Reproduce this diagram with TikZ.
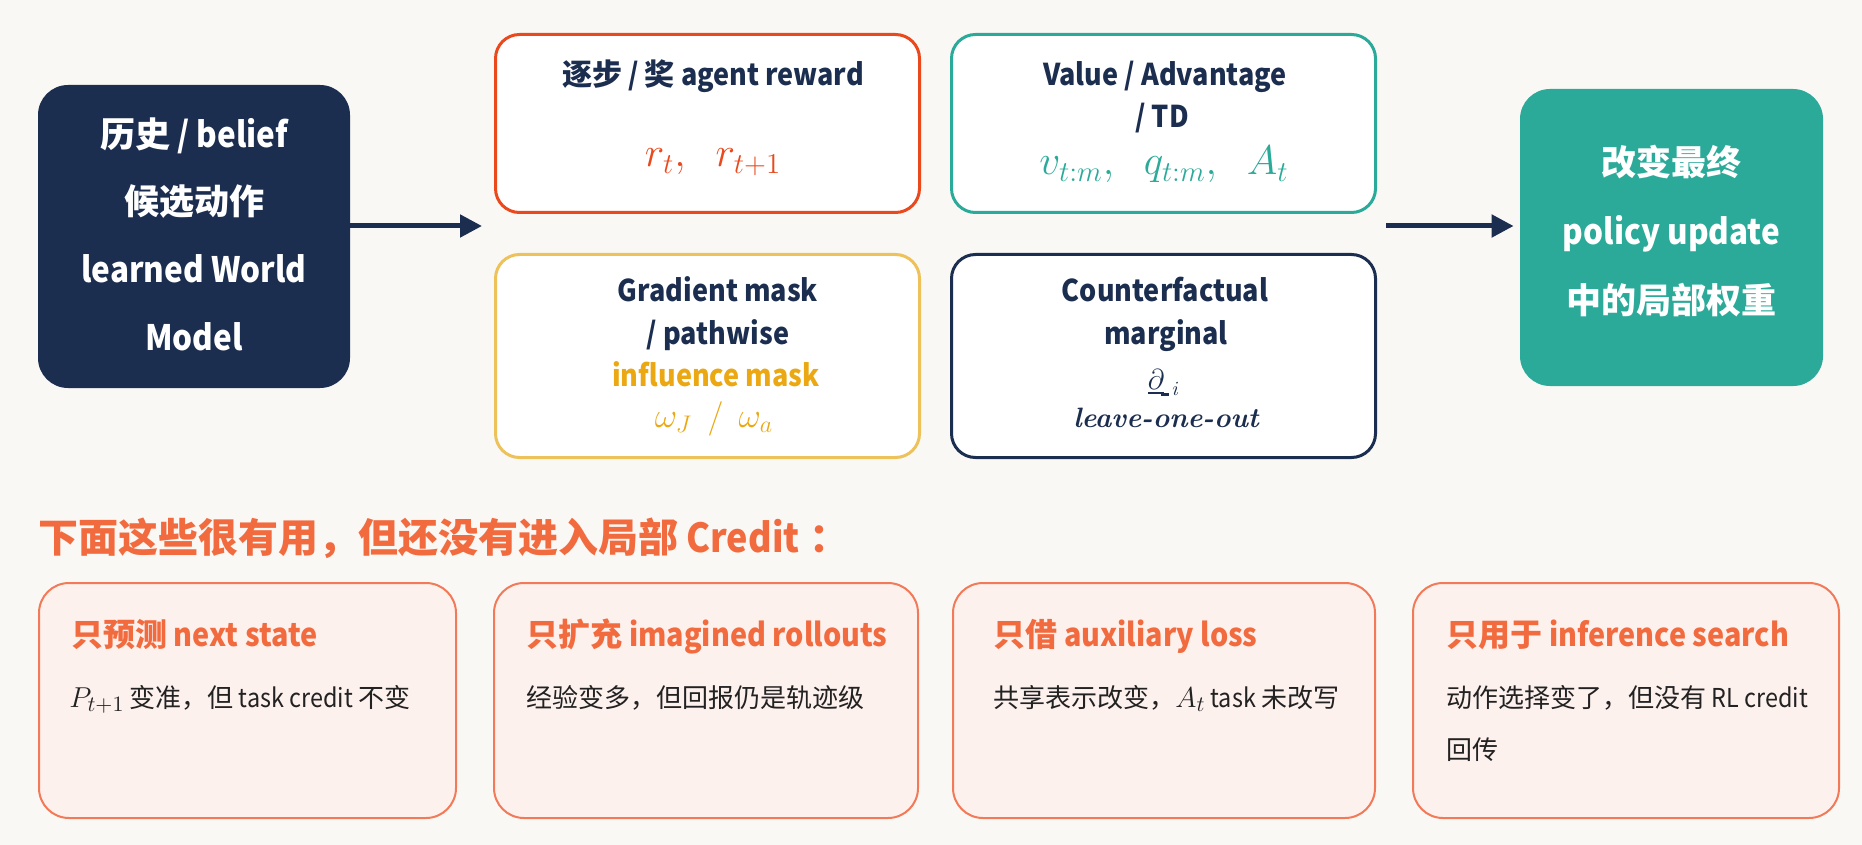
\documentclass[tikz,border=0pt]{standalone}
\usepackage{fontspec}
\usepackage{amsmath}
\usetikzlibrary{arrows.meta}
\setmainfont{Noto Sans CJK SC}[FakeStretch=0.9]
\newfontfamily\zhf{Noto Sans CJK SC}
\newcommand\zh[1]{{\zhf #1}}
\newcommand\bm[1]{{\fontsize{15.5}{16}\selectfont$#1$}}
\newfontfamily\lmserif{Latin Modern Roman}
\definecolor{bg}{HTML}{F9F8F5}
\definecolor{navy}{HTML}{1C2E4F}
\definecolor{redc}{HTML}{E9491D}
\definecolor{yelc}{HTML}{EEC25A}
\definecolor{goldt}{HTML}{EBA812}
\definecolor{tealc}{HTML}{2BAA9A}
\definecolor{orng}{HTML}{F26B3F}
\definecolor{pinkfill}{HTML}{FDF1EE}
\definecolor{pinkline}{HTML}{F27A58}
\definecolor{bodyt}{HTML}{222222}
\tikzset{
  bigbox/.style={rectangle, rounded corners=15pt, inner sep=0pt},
  bigtext/.style={align=center, inner sep=0pt, text=white,
    font=\bfseries\fontsize{17.5}{33.8}\selectfont},
  card/.style={rectangle, rounded corners=12pt, line width=1.5pt, fill=white, inner sep=0pt,
    minimum width=212pt, anchor=north west},
  ttl/.style={anchor=base, inner sep=0pt, text=navy, font=\bfseries\fontsize{15}{18}\selectfont},
  mth/.style={anchor=base, inner sep=0pt, font=\fontsize{18}{20}\selectfont},
  note/.style={rectangle, rounded corners=15pt, line width=1pt, draw=pinkline, fill=pinkfill,
    inner sep=0pt, minimum height=117.5pt, anchor=north west},
  notettl/.style={anchor=base west, inner sep=0pt, text=orng, font=\bfseries\fontsize{16}{19}\selectfont},
  notebody/.style={anchor=base west, inner sep=0pt, text=bodyt, font=\fontsize{13}{16}\selectfont},
  arr/.style={draw=navy, line width=2.5pt, -{Triangle[length=11pt, width=11pt]}}
}
\begin{document}
\begin{tikzpicture}[x=0.5pt,y=-0.5pt]
\fill[bg] (0,0) rectangle (1862,845);
\useasboundingbox (0,0) rectangle (1862,845);

% left and right big boxes
\node[bigbox, fill=navy, minimum width=156pt, minimum height=151.5pt] (hist) at (194,236.5) {};
\node[bigtext] (histT) at (194,234) {\zh{历史} / belief\\\zh{候选动作}\\learned World\\Model};
\node[bigbox, fill=tealc, minimum width=151.5pt, minimum height=148.5pt] (policy) at (1671.5,237.5) {};
\node[bigtext, font=\bfseries\fontsize{17.5}{34.5}\selectfont] (policyT) at (1671.5,231)
  {\zh{改变最终}\\policy update\\\zh{中的局部权重}};

% four cards
\node[card, draw=redc, minimum height=89pt] (reward) at (494,33) {};
\node[card, draw=tealc, minimum height=89pt] (value) at (950,33) {};
\node[card, draw=yelc, minimum height=101.5pt] (grad) at (494,253) {};
\node[card, draw=navy, minimum height=101.5pt] (cf) at (950,253) {};

\node[ttl] (rewardT) at (713,86) {\zh{逐步} / \zh{奖} agent reward};
\node[mth, text=redc, font=\fontsize{20.5}{24}\selectfont] (rewardM) at (713,167) {$r_t,\;\; r_{t+1}$};

\node[ttl] (valueT1) at (1165,86) {Value / Advantage};
\node[ttl] (valueT2) at (1162,128) {/ TD};
\node[mth, text=tealc, font=\fontsize{20}{24}\selectfont] (valueM) at (1164,175) {$v_{t:m},\;\; q_{t:m},\;\; A_t$};

\node[ttl] (gradT1) at (718,301) {Gradient mask};
\node[ttl] (gradT2) at (718,344) {/ pathwise};
\node[ttl, text=goldt] (gradT3) at (716,386) {influence mask};
\node[mth, text=goldt] (gradM) at (714,427) {$\omega_J\,\;/\;\,\omega_a$};

\node[ttl] (cfT1) at (1165,301) {Counterfactual};
\node[ttl] (cfT2) at (1166,344) {marginal};
\node[mth, text=navy, font=\fontsize{14.5}{18}\selectfont] (cfM) at (1164,389) {$\underline{\partial}_{\!\rule{0.28em}{0.09em}\,i}$};
\node[anchor=base, inner sep=0pt, text=navy, font=\lmserif\bfseries\itshape\fontsize{14}{16}\selectfont] (cfL) at (1166,427) {leave-one-out};

% arrows
\coordinate (a1e) at (482,226);
\coordinate (a2s) at (1386,226);
\draw[arr] (a1e -| hist.east) -- (a1e);
\draw[arr] (a2s) -- ([xshift=-3pt]a2s -| policy.west);

% heading
\node[anchor=base west, inner sep=0pt, text=orng, font=\bfseries\fontsize{20}{22}\selectfont] (head) at (38,552)
  {\zh{下面这些很有用，但还没有进入局部} Credit\hspace{0.25em}\zh{：}};

% bottom notes
\node[note, minimum width=208.5pt] (n1) at (38,582) {};
\node[note, minimum width=212pt] (n2) at (493,582) {};
\node[note, minimum width=211pt] (n3) at (952,582) {};
\node[note, minimum width=213pt] (n4) at (1412,582) {};

\node[notettl] (n1t) at (71,646) {\zh{只预测} next state};
\node[notebody] (n1b) at (69,707) {\bm{P_{t+1}} \zh{变准，但} task credit \zh{不变}};
\node[notettl] (n2t) at (526,646) {\zh{只扩充} imagined rollouts};
\node[notebody] (n2b) at (526,707) {\zh{经验变多，但回报仍是轨迹级}};
\node[notettl] (n3t) at (993,646) {\zh{只借} auxiliary loss};
\node[notebody] (n3b) at (993,707) {\zh{共享表示改变，}\bm{A_t} task \zh{未改写}};
\node[notettl] (n4t) at (1446,646) {\zh{只用于} inference search};
\node[notebody] (n4b) at (1446,707) {\zh{动作选择变了，但没有} RL credit};
\node[notebody] (n4c) at (1446,759) {\zh{回传}};
\end{tikzpicture}
\end{document}
